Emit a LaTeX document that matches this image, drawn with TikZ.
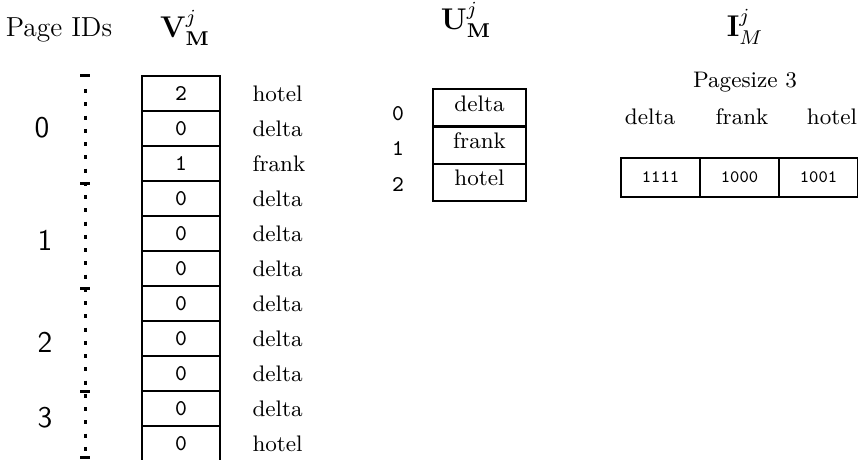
\documentclass[tikz,border=0pt]{standalone}
\usepackage{amsmath, amssymb}
\usepackage{tikz}
\usetikzlibrary{calc,positioning}

\tikzset{
  vcell/.style={draw,line width=0.8pt,minimum width=31.2pt,minimum height=14pt,inner sep=0,outer sep=0,font=\small\ttfamily},
  ucell/.style={draw,line width=0.8pt,minimum width=37.2pt,minimum height=14.8pt,inner sep=0,outer sep=0},
  uword/.style={font=\small,inner sep=0},
  icell/.style={draw,line width=0.8pt,minimum width=31.6pt,minimum height=15.6pt,inner sep=0,outer sep=0,font=\scriptsize\ttfamily},
  word/.style={anchor=west,font=\small,inner sep=0},
  pageno/.style={font=\sffamily\large},
  idx/.style={font=\small\ttfamily},
  header/.style={font=\large},
  pagetick/.style={line width=1.2pt}
}

\begin{document}
\begin{tikzpicture}[x=0.4pt,y=-0.4pt]
          \useasboundingbox (0,0) rectangle (858,459);
          % headers
          \node[font=\fontsize{11}{13}\selectfont] (pageids) at (59,30) {Page IDs};
          \node[header] (vhead) at (185,28) {$\mathbf{V}^j_{\mathbf{M}}$};
          \node[header] (uhead) at (466,20) {$\mathbf{U}^j_{\mathbf{M}}$};
          \node[header] (ihead) at (745,27) {$\mathbf{I}^j_{M}$};
          % page ids
          \draw[line width=1.2pt,dash pattern=on 1.6pt off 3.7pt] (85,89) -- (85,459);
          \draw[pagetick] (80,76) -- (90,76);
          \draw[pagetick] (80,183) -- (90,183);
          \draw[pagetick] (80,288) -- (90,288);
          \draw[pagetick] (80,391) -- (90,391);
          \draw[pagetick] (80,457) -- (90,457);
          \node[pageno] (p0) at (42,128) {0};
          \node[pageno] (p1) at (45,240) {1};
          \node[pageno] (p2) at (45,342) {2};
          \node[pageno] (p3) at (45,418) {3};
          % V column
          \node[vcell] (v0) at (181,93.5) {2};
          \node[vcell] (v1) at (181,128.5) {0};
          \node[vcell] (v2) at (181,163.5) {1};
          \node[vcell] (v3) at (181,198.5) {0};
          \node[vcell] (v4) at (181,233.5) {0};
          \node[vcell] (v5) at (181,268.5) {0};
          \node[vcell] (v6) at (181,303.5) {0};
          \node[vcell] (v7) at (181,338.5) {0};
          \node[vcell] (v8) at (181,373.5) {0};
          \node[vcell] (v9) at (181,408.5) {0};
          \node[vcell] (v10) at (181,443.5) {0};
          \node[word] (w0) at (252,93.5) {hotel};
          \node[word] (w1) at (252,128.5) {delta};
          \node[word] (w2) at (252,163.5) {frank};
          \node[word] (w3) at (252,198.5) {delta};
          \node[word] (w4) at (252,233.5) {delta};
          \node[word] (w5) at (252,268.5) {delta};
          \node[word] (w6) at (252,303.5) {delta};
          \node[word] (w7) at (252,338.5) {delta};
          \node[word] (w8) at (252,373.5) {delta};
          \node[word] (w9) at (252,408.5) {delta};
          \node[word] (w10) at (252,443.5) {hotel};
          % U column
          \node[ucell] (u0) at (479.5,108) {};
          \node[ucell] (u1) at (479.5,145) {};
          \node[ucell] (u2) at (479.5,182) {};
          \node[uword] (uw0) at ($(u0)+(0,-4)$) {delta};
          \node[uword] (uw1) at ($(u1)+(0,-4)$) {frank};
          \node[uword] (uw2) at ($(u2)+(0,-4)$) {hotel};
          \node[idx] (ui0) at (398,114) {0};
          \node[idx] (ui1) at (398,149) {1};
          \node[idx] (ui2) at (398,185) {2};
          % I row
          \node[font=\small] (pagesize) at (745,82) {Pagesize 3};
          \node[font=\small,anchor=base] (ic0) at (650,124) {delta};
          \node[font=\small,anchor=base] (ic1) at (742,124) {frank};
          \node[font=\small,anchor=base] (ic2) at (832,124) {hotel};
          \node[icell] (i0) at (660.5,177.5) {1111};
          \node[icell] (i1) at (739.5,177.5) {1000};
          \node[icell] (i2) at (818.5,177.5) {1001};
        \end{tikzpicture}
\end{document}
